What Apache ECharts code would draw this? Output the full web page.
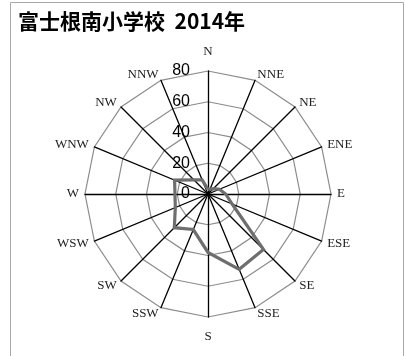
<!DOCTYPE html>
<html>
<head>
<meta charset="utf-8">
<script src="https://cdn.jsdelivr.net/npm/echarts@6/dist/echarts.min.js"></script>
<style>
  html, body { margin: 0; padding: 0; background: #fff; }
  #chart { width: 406px; height: 356px; }
</style>
</head>
<body>
<div id="chart"></div>
<script>
// Wind directions, clockwise from north
const directions = ['N', 'NNE', 'NE', 'ENE', 'E', 'ESE', 'SE', 'SSE',
                    'S', 'SSW', 'SW', 'WSW', 'W', 'WNW', 'NW', 'NNW'];
// Frequency per direction (same order as directions)
const frequency = [3, 3.5, 5, 8, 11.5, 17, 51, 53,
                   38, 25, 31, 23, 21.5, 23.5, 13, 10];
const scaleMax = 80;
const titleText = '富士根南小学校  2014年';

// Radar axes run counter-clockwise, so keep N first and reverse the rest
const order = [0].concat(directions.map((_, i) => i).slice(1).reverse());
const indicators = order.map((i, k) => {
  const ind = { name: directions[i], min: 0, max: scaleMax };
  if (k === 0) ind.axisLabel = { show: true };
  return ind;
});
const values = order.map(i => frequency[i]);

const chart = echarts.init(document.getElementById('chart'), null, { renderer: 'canvas' });
chart.setOption({
  animation: false,
  backgroundColor: '#fff',
  title: {
    text: titleText,
    left: 13,
    top: 6,
    textStyle: {
      fontFamily: 'Noto Sans CJK JP',
      fontSize: 21,
      fontWeight: 'bold',
      color: '#000'
    }
  },
  graphic: [{
    type: 'rect',
    shape: { x: 10.5, y: 2.5, width: 393, height: 400 },
    style: { fill: null, stroke: '#a8a8a8', lineWidth: 1 },
    silent: true,
    z: -1
  }],
  radar: {
    center: [208, 194],
    radius: 123,
    shape: 'polygon',
    splitNumber: 4,
    indicator: indicators,
    nameGap: 6,
    axisName: {
      color: '#222',
      fontFamily: 'Liberation Serif',
      fontSize: 13,
      padding: [7, 0, 7, 0]
    },
    axisLine: { lineStyle: { color: '#000', width: 1.3 } },
    splitLine: { lineStyle: { color: '#8c8c8c', width: 1.2 } },
    splitArea: { show: false },
    axisTick: { show: false },
    axisLabel: {
      show: false,
      margin: 18,
      color: '#000',
      fontFamily: 'Liberation Sans',
      fontSize: 16
    }
  },
  series: [{
    type: 'radar',
    symbol: 'none',
    lineStyle: { color: '#6e6e6e', width: 3.2, join: 'miter' },
    data: [{ value: values }]
  }]
});
</script>
</body>
</html>
